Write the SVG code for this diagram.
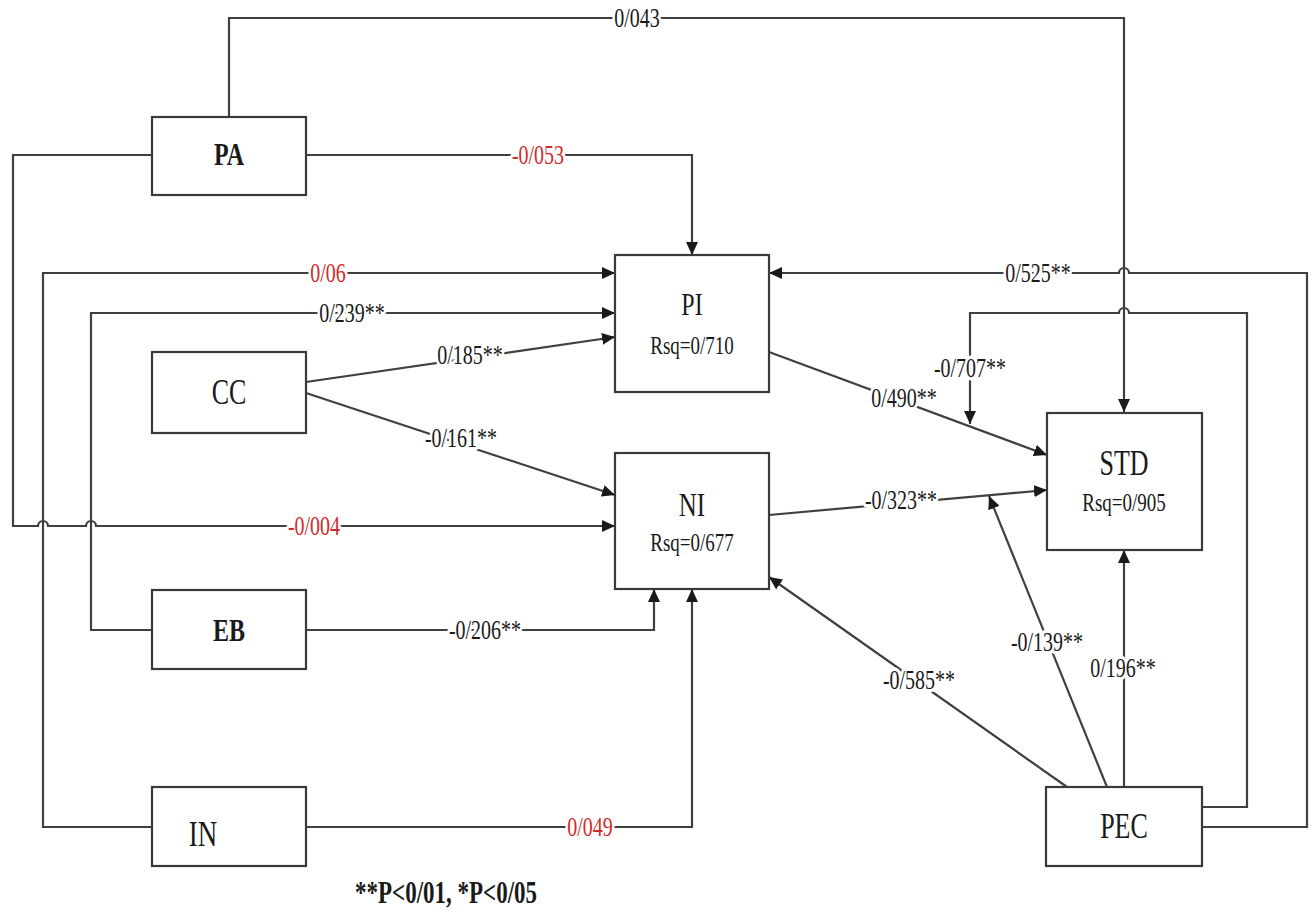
<svg xmlns="http://www.w3.org/2000/svg" width="1312" height="913" viewBox="0 0 1312 913">
<style>
.box{fill:#fff;stroke:#3a3a3a;stroke-width:2.2}
.ln{fill:none;stroke:#404040;stroke-width:2.2}
.arr{marker-end:url(#ah)}
.t{font-family:"Liberation Serif","Times New Roman",serif;text-anchor:middle;fill:#1a1a1a}
.b{font-weight:bold}
.lbl{font-family:"Liberation Serif","Times New Roman",serif;font-size:20px;text-anchor:middle;fill:#1a1a1a;stroke:#fff;stroke-width:5;stroke-linejoin:round;paint-order:stroke}
.red{fill:#d42a2a}
</style>
<defs>
<marker id="ah" markerUnits="userSpaceOnUse" markerWidth="14" markerHeight="12" refX="13" refY="6" orient="auto">
<path d="M0,0 L13,6 L0,12 Z" fill="#1a1a1a"/>
</marker>
</defs>
<g id="connectors">
<path class="ln arr" d="M229,117 V18 H1124 V412"/>
<path class="ln arr" d="M306,155 H692 V255"/>
<path class="ln arr" d="M152,155 H13 V526 H38 a5,5 0 0 1 10,0 H86 a5,5 0 0 1 10,0 H615"/>
<path class="ln arr" d="M152,827 H43 V273 H615"/>
<path class="ln arr" d="M152,630 H91 V313 H615"/>
<path class="ln arr" d="M306,382 L615,337"/>
<path class="ln arr" d="M306,393 L615,495"/>
<path class="ln arr" d="M306,630 H654 V589"/>
<path class="ln arr" d="M306,827 H692 V589"/>
<path class="ln arr" d="M769,352 L1047,455"/>
<path class="ln arr" d="M769,515 L1047,490"/>
<path class="ln arr" d="M1124,787 V550"/>
<path class="ln arr" d="M1067,787 L769,577"/>
<path class="ln arr" d="M1107,787 L989,496"/>
<path class="ln arr" d="M1202,807 H1247 V313 H1129 a5,5 0 0 0 -10,0 H970 V424"/>
<path class="ln arr" d="M1202,827 H1307 V273 H1129 a5,5 0 0 0 -10,0 H769"/>
<g id="labels">
<text class="lbl" transform="translate(637,27) scale(1,1.35)">0/043</text>
<text class="lbl red" transform="translate(538,164) scale(1,1.35)">-0/053</text>
<text class="lbl red" transform="translate(328,282) scale(1,1.35)">0/06</text>
<text class="lbl" transform="translate(352,322) scale(1,1.35)">0/239**</text>
<text class="lbl" transform="translate(470,364) scale(1,1.35)">0/185**</text>
<text class="lbl" transform="translate(461,447) scale(1,1.35)">-0/161**</text>
<text class="lbl red" transform="translate(314,535) scale(1,1.35)">-0/004</text>
<text class="lbl" transform="translate(485,639) scale(1,1.35)">-0/206**</text>
<text class="lbl red" transform="translate(590,836) scale(1,1.35)">0/049</text>
<text class="lbl" transform="translate(904,407) scale(1,1.35)">0/490**</text>
<text class="lbl" transform="translate(901,509) scale(1,1.35)">-0/323**</text>
<text class="lbl" transform="translate(970,377) scale(1,1.35)">-0/707**</text>
<text class="lbl" transform="translate(1038,282) scale(1,1.35)">0/525**</text>
<text class="lbl" transform="translate(919,689) scale(1,1.35)">-0/585**</text>
<text class="lbl" transform="translate(1047,651) scale(1,1.35)">-0/139**</text>
<text class="lbl" transform="translate(1123,677) scale(1,1.35)">0/196**</text>
</g>
</g>
<g id="PA">
<rect class="box" x="152" y="117" width="154" height="78"/>
<text class="t b" font-size="24" transform="translate(229,165) scale(1,1.35)">PA</text>
</g>
<g id="CC">
<rect class="box" x="152" y="352" width="154" height="81"/>
<text class="t" font-size="26" transform="translate(229,404) scale(1,1.35)">CC</text>
</g>
<g id="EB">
<rect class="box" x="152" y="590" width="154" height="79"/>
<text class="t b" font-size="24" transform="translate(229,641) scale(1,1.35)">EB</text>
</g>
<g id="IN">
<rect class="box" x="152" y="787" width="154" height="79"/>
<text class="t" font-size="27" transform="translate(203,846) scale(1,1.35)">IN</text>
</g>
<g id="PI">
<rect class="box" x="615" y="255" width="154" height="137"/>
<text class="t" font-size="24" transform="translate(692,315) scale(1,1.35)">PI</text>
<text class="t" font-size="19" transform="translate(692,354) scale(1,1.35)">Rsq=0/710</text>
</g>
<g id="NI">
<rect class="box" x="615" y="453" width="154" height="136"/>
<text class="t" font-size="25" transform="translate(692,516) scale(1,1.35)">NI</text>
<text class="t" font-size="19" transform="translate(692,551) scale(1,1.35)">Rsq=0/677</text>
</g>
<g id="STD">
<rect class="box" x="1047" y="413" width="155" height="137"/>
<text class="t" font-size="26" transform="translate(1124,475) scale(1,1.35)">STD</text>
<text class="t" font-size="19" transform="translate(1124,511) scale(1,1.35)">Rsq=0/905</text>
</g>
<g id="PEC">
<rect class="box" x="1046" y="787" width="156" height="79"/>
<text class="t" font-size="26" transform="translate(1124,838) scale(1,1.35)">PEC</text>
</g>
<g id="legend">
<text class="t b" font-size="23" transform="translate(446,903) scale(1,1.35)">**P&lt;0/01, *P&lt;0/05</text>
</g>
</svg>
